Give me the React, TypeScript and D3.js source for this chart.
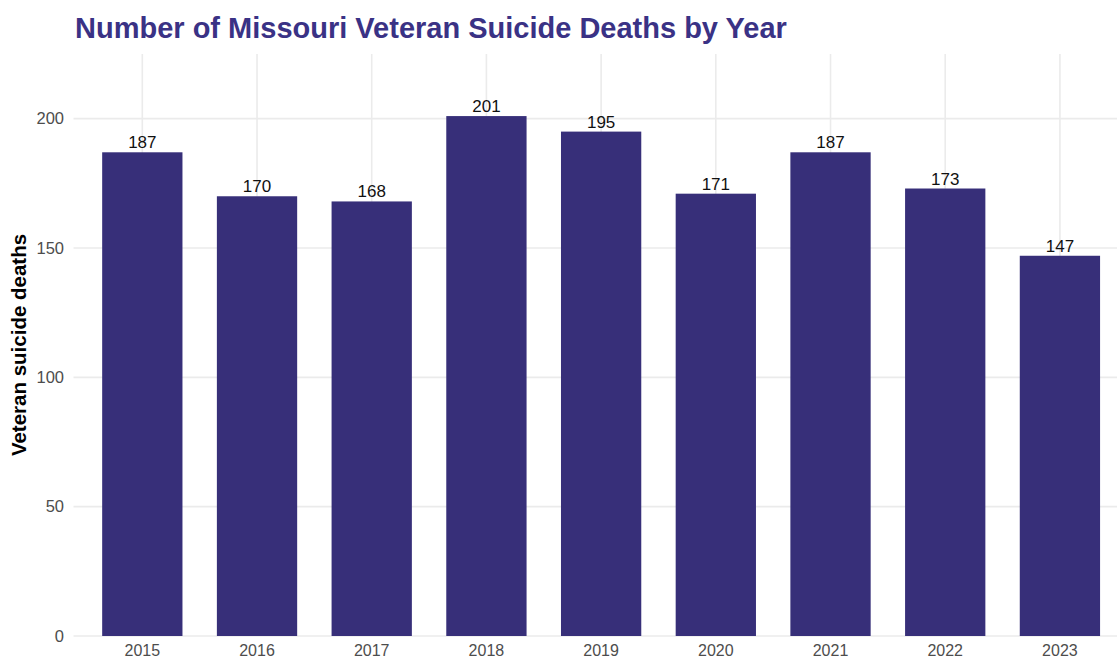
import React from "react";
import * as d3 from "d3";

const years = ["2015", "2016", "2017", "2018", "2019", "2020", "2021", "2022", "2023"];
const deaths = [187, 170, 168, 201, 195, 171, 187, 173, 147];
const yTicks = [0, 50, 100, 150, 200];

const W = 1117;
const H = 660;
const plotLeft = 73.5;
const step = 114.7;
const plotRight = plotLeft + step * 9.2;
const plotTop = 54;
const plotBottom = 636;

export default function App() {
  const x = d3
    .scaleBand<string>()
    .domain(years)
    .range([plotLeft + step * 0.1, plotRight - step * 0.1])
    .paddingInner(0.3)
    .paddingOuter(0.15);
  const y = d3.scaleLinear().domain([0, 225]).range([plotBottom, plotTop]);
  const font = "'Liberation Sans', Arial, Helvetica, sans-serif";
  const barColor = "#372F79";
  return (
    <svg
      width={W}
      height={H}
      style={{ position: "absolute", left: 0, top: 0, background: "#fff" }}
      fontFamily={font}
    >
      {yTicks.map((t) => (
        <line key={"gy" + t} x1={plotLeft} x2={plotRight} y1={y(t)} y2={y(t)} stroke="#EBEBEB" strokeWidth={1.6} />
      ))}
      {years.map((yr) => {
        const cx = (x(yr) as number) + x.bandwidth() / 2;
        return <line key={"gx" + yr} x1={cx} x2={cx} y1={plotTop} y2={plotBottom} stroke="#EBEBEB" strokeWidth={1.6} />;
      })}
      {years.map((yr, i) => (
        <rect
          key={"b" + yr}
          x={x(yr) as number}
          y={y(deaths[i])}
          width={x.bandwidth()}
          height={y(0) - y(deaths[i])}
          fill={barColor}
        />
      ))}
      {years.map((yr, i) => (
        <text
          key={"l" + yr}
          x={(x(yr) as number) + x.bandwidth() / 2}
          y={y(deaths[i]) - 4}
          textAnchor="middle"
          fontSize={17}
          fill="#111"
        >
          {deaths[i]}
        </text>
      ))}
      {yTicks.map((t) => (
        <text key={"ty" + t} x={64} y={y(t)} dy="0.35em" textAnchor="end" fontSize={16.5} fill="#4D4D4D">
          {t}
        </text>
      ))}
      {years.map((yr) => (
        <text
          key={"tx" + yr}
          x={(x(yr) as number) + x.bandwidth() / 2}
          y={656}
          textAnchor="middle"
          fontSize={16}
          fill="#4D4D4D"
        >
          {yr}
        </text>
      ))}
      <text
        transform={`translate(26, 345) rotate(-90)`}
        textAnchor="middle"
        fontSize={20.5}
        fontWeight="bold"
        fill="#000"
      >
        Veteran suicide deaths
      </text>
      <text x={75} y={38} fontSize={29} fontWeight="bold" fill="#3A3285">
        Number of Missouri Veteran Suicide Deaths by Year
      </text>
    </svg>
  );
}
